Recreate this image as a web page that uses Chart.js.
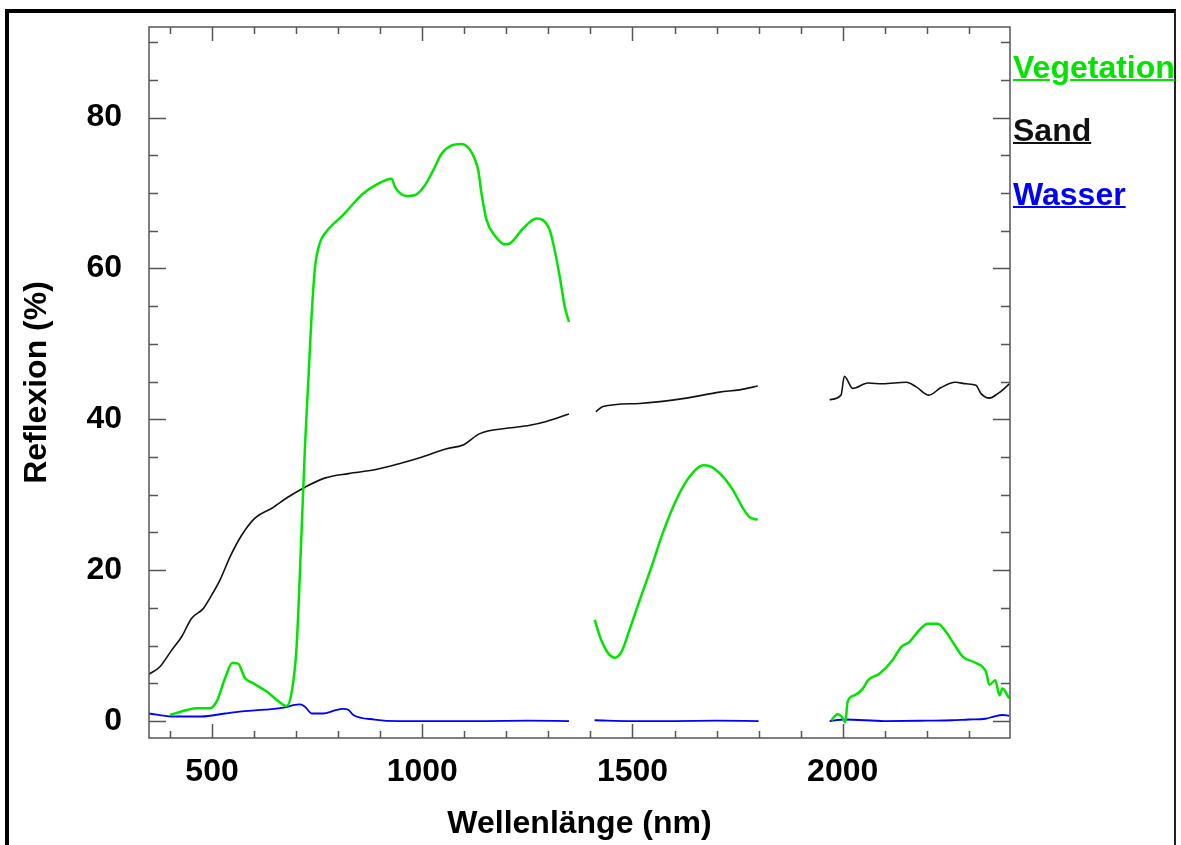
<!DOCTYPE html>
<html lang="de">
<head>
    <meta charset="UTF-8">
    <title>Reflexion</title>
    <script src="https://cdn.jsdelivr.net/npm/chart.js@4.4.1/dist/chart.umd.min.js"></script>
    <style>
        body { margin: 0; background: #fff; }
        #wrap { position: relative; width: 1181px; height: 845px; overflow: hidden; background: #fff; }
        #canvas_grafico { position: absolute; left: 0; top: 0; }
        #rahmen {
            position: absolute; left: 5px; top: 9px; width: 1165px; height: 860px;
            border-left: 4px solid #000; border-top: 4px solid #000; border-right: 2px solid #222;
        }
        .legende {
            position: absolute; left: 1013px;
            font: bold 32px "Liberation Sans", Arial, sans-serif; line-height: 32px;
            text-decoration: underline; text-decoration-thickness: 2px; white-space: nowrap;
        }
    </style>
</head>
<body>
    <div id="wrap">
        <div id="rahmen"></div>
        <canvas id="canvas_grafico" width="1181" height="845"></canvas>
        <div id="legende_box"></div>
    </div>

    <script>
        // Werte (nm / Reflexion in %), null = Luecke
        const vegNm = [400, 443, 463, 495, 511, 531, 548, 562, 578, 598, 630, 654, 677, 689, 701, 713, 721, 729, 737, 745,
            756, 768, 812, 859, 891, 927, 935, 963, 982, 1006, 1026, 1046, 1070, 1093, 1117, 1133, 1141, 1153, 1172, 1196,
            1208, 1240, 1272, 1287, 1303, 1315, 1327, 1339, 1349, 1380, 1410, 1426, 1442, 1458, 1474, 1493, 1517, 1545,
            1572, 1604, 1636, 1668, 1683, 1715, 1739, 1763, 1779, 1798, 1880, 1973, 1988, 2000, 2006, 2012, 2028, 2048,
            2060, 2088, 2119, 2139, 2159, 2183, 2202, 2226, 2246, 2266, 2286, 2317, 2341, 2349, 2363, 2373, 2380, 2396];
        const vegWerte = [0.8, 1.5, 1.7, 1.7, 2.6, 5.7, 7.7, 7.6, 5.7, 5.0, 3.9, 2.8, 2.0, 3.7, 9.8, 25.3, 36.4, 45.2, 54.0, 60.2,
            63.3, 64.6, 67.1, 69.9, 71.1, 71.9, 70.8, 69.6, 69.7, 71.0, 73.0, 75.2, 76.3, 76.5, 75.4, 73.0, 69.9, 66.4, 64.4, 63.2,
            63.3, 65.3, 66.6, 66.4, 65.1, 62.4, 58.9, 54.9, 52.9, null, 13.4, 10.7, 9.0, 8.4, 9.2, 12.1, 16.0, 20.4,
            24.9, 29.3, 32.4, 33.9, 33.8, 32.4, 30.6, 28.2, 27.0, 26.7, null, 0.1, 0.9, 0.4, -0.2, 2.6, 3.4, 4.3,
            5.4, 6.3, 8.1, 9.8, 10.5, 12.1, 12.9, 12.9, 11.8, 10.1, 8.5, 7.7, 6.5, 4.8, 5.4, 3.4, 4.3, 3.0];

        const sandNm = [350, 376, 404, 428, 451, 479, 495, 519, 543, 570, 602, 642, 681, 721, 768, 824, 887, 951, 1000, 1058,
            1097, 1137, 1200, 1256, 1295, 1349, 1380, 1413, 1430, 1517, 1628, 1707, 1755, 1798, 1880, 1969, 1996, 2004,
            2024, 2060, 2095, 2151, 2175, 2205, 2234, 2268, 2294, 2317, 2329, 2349, 2369, 2385, 2396];
        const sandWerte = [6.2, 7.2, 9.4, 11.2, 13.6, 14.9, 16.3, 18.7, 21.8, 24.6, 26.9, 28.2, 29.7, 31.0, 32.2, 32.8, 33.3, 34.2, 35.0, 36.1,
            36.6, 38.1, 38.8, 39.2, 39.7, 40.7, null, 41.0, 41.7, 42.1, 42.8, 43.6, 43.9, 44.4, null, 42.6, 43.2, 45.7,
            44.1, 44.8, 44.7, 44.9, 44.3, 43.2, 44.2, 44.9, 44.7, 44.5, 43.4, 42.8, 43.4, 44.1, 44.7];

        const wasserNm = [350, 404, 475, 531, 578, 626, 673, 693, 709, 721, 737, 764, 792, 812, 824, 836, 887, 943, 1054, 1150,
            1250, 1349, 1380, 1410, 1500, 1600, 1700, 1800, 1880, 1969, 2005, 2100, 2200, 2260, 2300, 2340, 2360, 2380, 2396];
        const wasserWerte = [1.0, 0.6, 0.6, 1.0, 1.3, 1.5, 1.8, 2.1, 2.2, 1.9, 1.0, 1.0, 1.4, 1.6, 1.5, 0.8, 0.2, 0.0, 0.0, 0.0,
            0.05, 0.0, null, 0.1, 0.0, 0.0, 0.05, 0.0, null, 0.0, 0.2, 0.0, 0.05, 0.1, 0.2, 0.3, 0.6, 0.8, 0.7];

        const xTicks = [500, 1000, 1500, 2000];
        const yTicks = [0, 20, 40, 60, 80];

        const gruen = '#00e400';
        const schwarz = '#111111';
        const blau = '#0000ff';
        const schrift = { family: '"Liberation Sans", Arial, sans-serif', size: 32, weight: 'bold' };

        function punkte(nm, werte) {
            return nm.map((x, i) => ({ x: x, y: werte[i] }));
        }

        // Rahmen und nach innen zeigende Striche
        const rahmenPlugin = {
            id: 'rahmen',
            afterDraw(chart) {
                const ctx = chart.ctx;
                const a = chart.chartArea;
                const sx = chart.scales.x;
                const sy = chart.scales.y;
                ctx.save();
                ctx.strokeStyle = '#555';
                ctx.lineWidth = 1.5;
                ctx.strokeRect(a.left, a.top, a.right - a.left, a.bottom - a.top);
                ctx.beginPath();
                for (let v = 400; v <= 2300; v += 100) {
                    const px = Math.round(sx.getPixelForValue(v)) + 0.5;
                    const len = v % 500 === 0 ? 14 : 7;
                    ctx.moveTo(px, a.bottom); ctx.lineTo(px, a.bottom - len);
                    ctx.moveTo(px, a.top); ctx.lineTo(px, a.top + len);
                }
                for (let v = 0; v <= 90; v += 5) {
                    const py = Math.round(sy.getPixelForValue(v)) + 0.5;
                    const len = v % 20 === 0 ? 17 : 9;
                    ctx.moveTo(a.left, py); ctx.lineTo(a.left + len, py);
                    ctx.moveTo(a.right, py); ctx.lineTo(a.right - len, py);
                }
                ctx.stroke();
                ctx.restore();
            }
        };

        const ctx = document.getElementById('canvas_grafico').getContext('2d');
        const myChart = new Chart(ctx, {
            type: 'line',
            data: {
                datasets: [
                    { label: 'Vegetation', data: punkte(vegNm, vegWerte), borderColor: gruen, borderWidth: 2.5 },
                    { label: 'Sand', data: punkte(sandNm, sandWerte), borderColor: schwarz, borderWidth: 1.6 },
                    { label: 'Wasser', data: punkte(wasserNm, wasserWerte), borderColor: blau, borderWidth: 1.8 }
                ]
            },
            options: {
                responsive: false,
                animation: false,
                spanGaps: false,
                elements: {
                    point: { radius: 0 },
                    line: { cubicInterpolationMode: 'monotone' }
                },
                layout: { padding: { left: 0, top: 27, right: 171, bottom: 0 } },
                plugins: {
                    legend: { display: false },
                    tooltip: { enabled: false }
                },
                scales: {
                    x: {
                        type: 'linear',
                        min: 350,
                        max: 2398,
                        grid: { display: false, drawTicks: false },
                        border: { display: false },
                        afterBuildTicks: s => { s.ticks = xTicks.map(v => ({ value: v })); },
                        afterFit: s => { s.height = 107; s.paddingLeft = 0; s.paddingRight = 0; },
                        ticks: { color: '#000', font: schrift, padding: 15, maxRotation: 0, autoSkip: false, callback: v => String(v) },
                        title: { display: true, text: 'Wellenlänge (nm)', color: '#000', font: schrift, padding: { top: 0, bottom: 2 } }
                    },
                    y: {
                        min: -2.25,
                        max: 92,
                        grid: { display: false, drawTicks: false },
                        border: { display: false },
                        afterBuildTicks: s => { s.ticks = yTicks.map(v => ({ value: v })); },
                        afterFit: s => { s.width = 149; s.paddingTop = 0; s.paddingBottom = 0; },
                        ticks: { color: '#000', font: schrift, padding: 27, callback: v => String(v) },
                        title: { display: true, text: 'Reflexion (%)', color: '#000', font: schrift, padding: { top: 18, bottom: 0 } }
                    }
                }
            },
            plugins: [rahmenPlugin]
        });

        // Legende als unterstrichener Text rechts neben dem Diagramm
        const legendeTop = [51, 114, 178];
        myChart.data.datasets.forEach(function (ds, i) {
            const el = document.createElement('div');
            el.className = 'legende';
            el.style.top = legendeTop[i] + 'px';
            el.style.color = ds.borderColor;
            el.textContent = ds.label;
            document.getElementById('legende_box').appendChild(el);
        });
    </script>
</body>
</html>
